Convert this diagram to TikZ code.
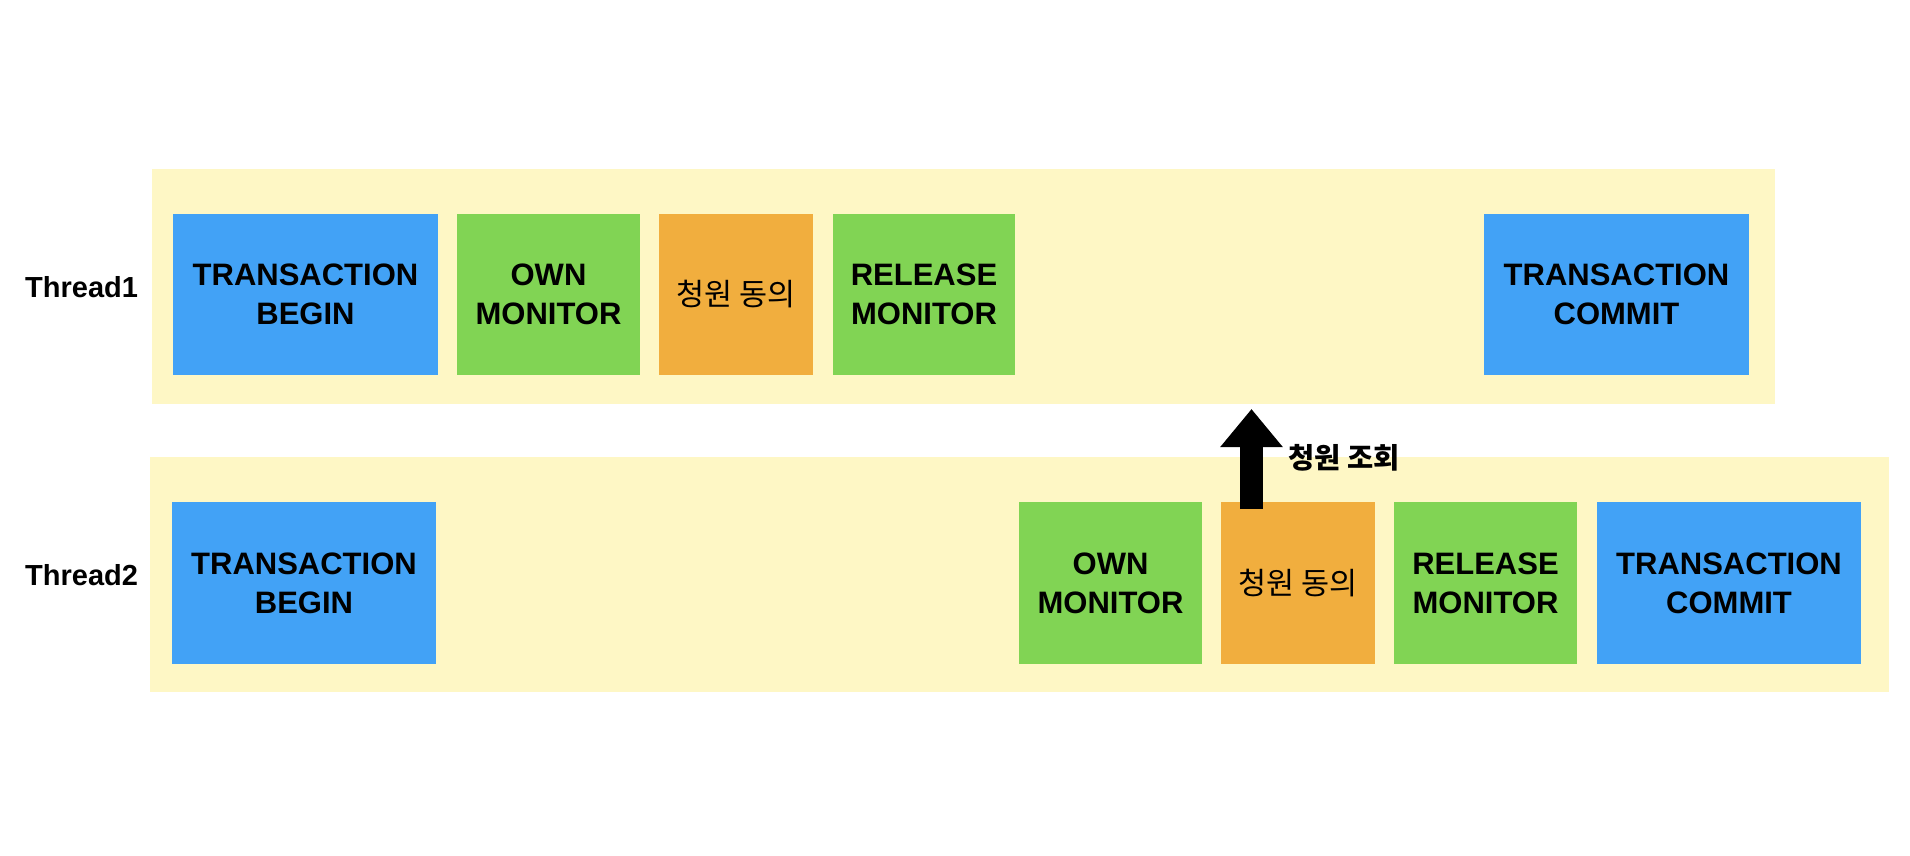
\documentclass[tikz,border=0pt]{standalone}
\usepackage{fontspec}
\setmainfont{Liberation Sans}
\newfontfamily\krfont{Noto Sans CJK KR}
\usetikzlibrary{arrows.meta}
\definecolor{bandY}{RGB}{254,247,197}
\definecolor{boxB}{RGB}{66,162,246}
\definecolor{boxG}{RGB}{129,212,84}
\definecolor{boxO}{RGB}{241,174,62}
\tikzset{
  band/.style={fill=bandY, draw=none},
  procbox/.style={draw=none, inner sep=0pt, align=center, text=black,
    font=\fontsize{31}{39}\selectfont\bfseries},
  krbox/.style={procbox, font=\krfont\fontsize{30.5}{36}\selectfont},
  threadlbl/.style={anchor=west, inner sep=0pt, font=\fontsize{29}{34}\selectfont\bfseries},
  uparrow/.style={line width=23pt, -{Triangle[width=60pt,length=38pt]}},
  arrlbl/.style={anchor=west, inner sep=0pt, font=\krfont\fontsize{28.5}{33}\selectfont\bfseries}
}
\newcommand{\pbox}[7]{% name, style, x1, y1, x2, y2, text
  \node[#2, minimum width={(#5-#3)*1pt}, minimum height={(#6-#4)*1pt}] (#1) at ({(#3+#5)/2},{(#4+#6)/2}) {#7};}
\begin{document}
\begin{tikzpicture}[x=1pt,y=-1pt]
\useasboundingbox (0,0) rectangle (1910,856);
% bands
\node[band, minimum width=1623pt, minimum height=235pt, inner sep=0pt] (band1) at (963.5,286.5) {};
\node[band, minimum width=1739pt, minimum height=235pt, inner sep=0pt] (band2) at (1019.5,574.5) {};
% thread labels
\node[threadlbl] (t1) at (25,287.5) {Thread1};
\node[threadlbl] (t2) at (25,575.5) {Thread2};
% thread 1 boxes
\pbox{a1}{procbox, fill=boxB}{173}{214}{438}{375}{TRANSACTION\\BEGIN}
\pbox{a2}{procbox, fill=boxG}{457}{214}{640}{375}{OWN\\MONITOR}
\pbox{a3}{krbox, fill=boxO}{659}{214}{813}{375}{청원 동의}
\pbox{a4}{procbox, fill=boxG}{833}{214}{1015}{375}{RELEASE\\MONITOR}
\pbox{a5}{procbox, fill=boxB}{1484}{214}{1749}{375}{TRANSACTION\\COMMIT}
% thread 2 boxes
\pbox{b1}{procbox, fill=boxB}{172}{502}{436}{664}{TRANSACTION\\BEGIN}
\pbox{b2}{procbox, fill=boxG}{1019}{502}{1202}{664}{OWN\\MONITOR}
\pbox{b3}{krbox, fill=boxO}{1221}{502}{1375}{664}{청원 동의}
\pbox{b4}{procbox, fill=boxG}{1394}{502}{1577}{664}{RELEASE\\MONITOR}
\pbox{b5}{procbox, fill=boxB}{1597}{502}{1861}{664}{TRANSACTION\\COMMIT}
% arrow
\coordinate (arrS) at (1251.5,509);
\coordinate (arrE) at (1251.5,409);
\draw[uparrow] (arrS) -- (arrE);
\node[arrlbl] (lbl) at (1288,458) {청원 조회};
\end{tikzpicture}
\end{document}
